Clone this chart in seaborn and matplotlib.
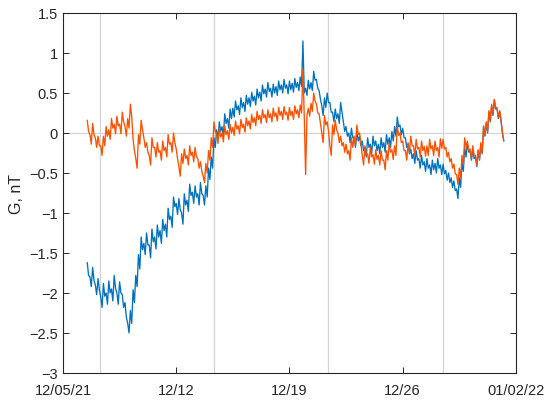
import numpy as np
import pandas as pd
import matplotlib
matplotlib.use("Agg")
import matplotlib.pyplot as plt
import seaborn as sns

# ---- data (2-hour samples from 2021-12-06 12:00) ----
start_time = "2021-12-06 12:00"
sample_freq = "2h"

blue_values = [
    -1.62, -1.78, -1.80, -1.92, -1.68, -1.84, -1.90, -2.02, -1.82, -1.96, -2.05, -2.18,
    -1.88, -2.04, -2.00, -2.14, -1.85, -2.00, -1.95, -2.10, -1.78, -1.94, -2.00, -2.14,
    -1.86, -2.00, -2.02, -2.18, -2.12, -2.30, -2.38, -2.50, -2.22, -2.38, -1.96, -2.12,
    -1.78, -1.92, -1.52, -1.70, -1.30, -1.46, -1.38, -1.52, -1.25, -1.40, -1.40, -1.56,
    -1.20, -1.36, -1.30, -1.45, -1.15, -1.30, -1.22, -1.38, -1.08, -1.22, -1.14, -1.30,
    -0.94, -1.08, -1.04, -1.18, -0.80, -0.92, -0.88, -1.02, -0.82, -0.96, -1.00, -1.14,
    -0.76, -0.90, -0.84, -0.98, -0.64, -0.78, -0.74, -0.88, -0.66, -0.80, -0.76, -0.90,
    -0.62, -0.76, -0.78, -0.90, -0.66, -0.80, -0.44, -0.58, -0.30, -0.44, -0.06, -0.18,
    0.04, -0.08, 0.14, 0.02, 0.08, -0.04, 0.24, 0.12, 0.18, 0.06, 0.30, 0.18,
    0.31, 0.20, 0.40, 0.29, 0.34, 0.23, 0.44, 0.32, 0.38, 0.27, 0.47, 0.36,
    0.44, 0.33, 0.51, 0.40, 0.46, 0.35, 0.55, 0.44, 0.51, 0.40, 0.60, 0.49,
    0.55, 0.45, 0.63, 0.52, 0.56, 0.45, 0.61, 0.50, 0.58, 0.47, 0.65, 0.54,
    0.60, 0.50, 0.67, 0.56, 0.60, 0.49, 0.65, 0.54, 0.62, 0.51, 0.68, 0.57,
    0.63, 0.53, 0.70, 0.58, 1.15, 0.50, 0.56, 0.47, 0.66, 0.55, 0.63, 0.53,
    0.77, 0.66, 0.67, 0.56, 0.53, 0.42, 0.34, 0.22, 0.44, 0.32, 0.50, 0.38,
    0.38, 0.26, 0.26, 0.14, 0.30, 0.18, 0.24, 0.12, 0.38, 0.26, 0.14, 0.02,
    0.08, -0.04, 0.00, -0.12, 0.06, -0.06, -0.06, -0.18, 0.02, -0.10, -0.04, -0.16,
    -0.10, -0.22, -0.18, -0.30, -0.06, -0.18, -0.14, -0.26, -0.04, -0.16, -0.10, -0.22,
    -0.14, -0.26, -0.06, -0.18, -0.12, -0.24, -0.02, -0.14, -0.06, -0.18, 0.02, -0.10,
    0.08, -0.04, 0.20, 0.08, 0.10, -0.02, 0.06, -0.06, -0.06, -0.18, -0.14, -0.26,
    -0.20, -0.32, -0.26, -0.38, -0.22, -0.34, -0.32, -0.44, -0.28, -0.40, -0.36, -0.48,
    -0.32, -0.44, -0.40, -0.52, -0.34, -0.46, -0.38, -0.50, -0.32, -0.44, -0.40, -0.52,
    -0.39, -0.51, -0.47, -0.59, -0.50, -0.62, -0.56, -0.68, -0.60, -0.72, -0.70, -0.82,
    -0.56, -0.68, -0.36, -0.48, -0.18, -0.30, -0.12, -0.24, -0.22, -0.34, -0.20, -0.32,
    -0.30, -0.42, -0.22, -0.34, -0.14, -0.26, 0.08, -0.04, 0.12, 0.00, 0.26, 0.14,
    0.34, 0.22, 0.41, 0.30, 0.30, 0.18, 0.26, 0.14, 0.00, -0.10,
]

orange_values = [
    0.16, 0.02, -0.02, -0.14, 0.12, -0.02, -0.06, -0.18, -0.04, -0.16, -0.16, -0.28,
    -0.04, -0.16, 0.08, -0.04, 0.04, -0.08, 0.18, 0.06, 0.11, -0.01, 0.21, 0.09,
    0.11, -0.01, 0.26, 0.14, 0.08, -0.04, 0.18, 0.06, 0.36, 0.20, -0.08, -0.22,
    -0.32, -0.44, -0.02, -0.14, 0.16, 0.04, -0.06, -0.18, -0.12, -0.24, -0.28, -0.40,
    -0.06, -0.18, -0.18, -0.30, -0.12, -0.24, -0.22, -0.34, -0.10, -0.22, -0.18, -0.30,
    -0.02, -0.14, -0.12, -0.24, 0.00, -0.12, -0.20, -0.32, -0.42, -0.54, -0.26, -0.38,
    -0.20, -0.32, -0.28, -0.40, -0.16, -0.28, -0.24, -0.36, -0.18, -0.30, -0.32, -0.44,
    -0.36, -0.48, -0.54, -0.62, -0.38, -0.50, -0.22, -0.34, -0.06, -0.18, 0.14, 0.02,
    -0.02, -0.13, 0.06, -0.05, 0.00, -0.11, 0.09, -0.02, 0.03, -0.08, 0.11, 0.00,
    0.07, -0.03, 0.15, 0.05, 0.09, -0.01, 0.17, 0.07, 0.11, 0.01, 0.19, 0.09,
    0.15, 0.05, 0.23, 0.13, 0.19, 0.09, 0.27, 0.17, 0.22, 0.12, 0.29, 0.19,
    0.23, 0.13, 0.29, 0.19, 0.24, 0.14, 0.31, 0.21, 0.25, 0.15, 0.32, 0.22,
    0.27, 0.17, 0.33, 0.23, 0.26, 0.16, 0.32, 0.22, 0.27, 0.17, 0.34, 0.24,
    0.29, 0.19, 0.35, 0.25, 0.80, 0.20, -0.52, 0.22, 0.31, 0.21, 0.37, 0.27,
    0.50, 0.40, 0.36, 0.25, 0.24, 0.12, 0.00, -0.12, 0.22, 0.10, 0.14, 0.02,
    -0.16, -0.28, 0.10, -0.02, 0.16, 0.04, 0.00, -0.12, -0.04, -0.16, -0.12, -0.24,
    -0.14, -0.26, -0.22, -0.34, -0.06, -0.18, -0.04, -0.16, 0.10, -0.02, 0.00, -0.12,
    -0.28, -0.40, -0.16, -0.28, -0.26, -0.38, -0.18, -0.30, -0.27, -0.39, -0.21, -0.33,
    -0.28, -0.40, -0.22, -0.34, -0.34, -0.46, -0.22, -0.34, -0.12, -0.24, -0.21, -0.33,
    -0.16, -0.28, 0.09, -0.03, 0.00, -0.12, -0.10, -0.22, -0.22, -0.34, -0.12, -0.24,
    -0.04, -0.16, -0.16, -0.28, -0.08, -0.20, -0.18, -0.30, -0.10, -0.22, -0.17, -0.29,
    -0.16, -0.28, -0.08, -0.20, -0.16, -0.28, -0.10, -0.22, -0.18, -0.30, -0.07, -0.19,
    -0.08, -0.20, -0.18, -0.30, -0.24, -0.36, -0.32, -0.44, -0.39, -0.51, -0.52, -0.64,
    -0.44, -0.56, -0.28, -0.40, -0.06, -0.18, -0.10, -0.22, -0.20, -0.32, -0.16, -0.28,
    -0.28, -0.40, -0.21, -0.33, -0.12, -0.24, 0.09, -0.03, 0.14, 0.02, 0.28, 0.16,
    0.36, 0.24, 0.42, 0.31, 0.32, 0.20, 0.28, 0.16, 0.01, -0.10,
]

# weekly reference lines (gray verticals)
vline_times = ["2021-12-07 07:00", "2021-12-14 08:30", "2021-12-21 09:30", "2021-12-28 12:00"]
xtick_dates = ["2021-12-05", "2021-12-12", "2021-12-19", "2021-12-26", "2022-01-02"]
xtick_labels = ["12/05/21", "12/12", "12/19", "12/26", "01/02/22"]
yticks = [-3, -2.5, -2, -1.5, -1, -0.5, 0, 0.5, 1, 1.5]
ytick_labels = ["\u22123", "\u22122.5", "\u22122", "\u22121.5", "\u22121", "\u22120.5", "0", "0.5", "1", "1.5"]

times = pd.date_range(start_time, periods=len(blue_values), freq=sample_freq)
times_o = pd.date_range(start_time, periods=len(orange_values), freq=sample_freq)
df = pd.DataFrame({
    "time": list(times) + list(times_o),
    "G": blue_values + orange_values,
    "series": ["blue"] * len(blue_values) + ["orange"] * len(orange_values),
})

sns.set_style("white")
plt.rcParams["font.family"] = ["Liberation Sans", "DejaVu Sans"]

fig = plt.figure(figsize=(5.5, 4.02), dpi=100)
ax = fig.add_axes([0.1145, 0.0697, 0.8235, 0.8955])

grid_col = "#d4d4d4"
for vt in vline_times:
    ax.axvline(pd.Timestamp(vt), color=grid_col, lw=0.9, zorder=0)
ax.axhline(0, color=grid_col, lw=0.9, zorder=0)

sns.lineplot(data=df, x="time", y="G", hue="series",
             palette={"blue": "#0072BD", "orange": "#FF5000"},
             hue_order=["blue", "orange"], estimator=None, sort=False,
             lw=0.95, legend=False, ax=ax)

ax.set_xlim(pd.Timestamp(xtick_dates[0]), pd.Timestamp(xtick_dates[-1]))
ax.set_ylim(-3, 1.5)
ax.set_xticks([pd.Timestamp(d) for d in xtick_dates])
ax.set_xticklabels(xtick_labels)
ax.set_yticks(yticks)
ax.set_yticklabels(ytick_labels)
ax.set_xlabel("")
ax.set_ylabel("G, nT", fontsize=11.5, color="#262626")

for s in ax.spines.values():
    s.set_visible(True)
    s.set_color("#262626")
    s.set_linewidth(0.8)
ax.tick_params(axis="both", direction="in", length=4, width=0.7, color="#262626",
               labelsize=10.5, labelcolor="#262626", top=True, right=True,
               bottom=True, left=True)
ax.tick_params(axis="x", pad=7)

fig.savefig("out.png", dpi=100, facecolor="white")
